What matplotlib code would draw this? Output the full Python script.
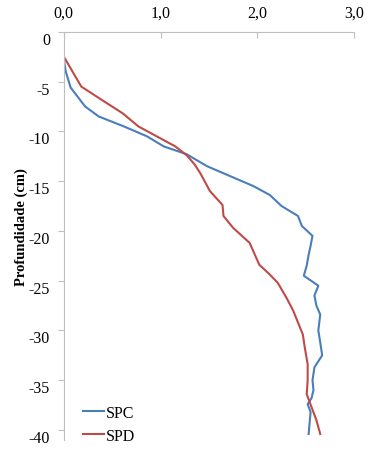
import matplotlib.pyplot as plt

plt.rcParams['font.family'] = ['Liberation Serif', 'DejaVu Serif']

# SPC (blue)
spc_depth = [0, -2.8, -4.0, -5.6, -7.5, -8.5, -9.5, -10.5, -11.5, -12.3, -13.5, -14.5, -15.5, -16.4,
             -17.5, -18.5, -19.5, -20.5, -21.5, -22.4, -23.5, -24.5, -25.5, -26.5, -27.5, -28.4,
             -30.0, -31.2, -32.5, -33.7, -35.0, -36.0, -36.8, -37.4, -38.2, -39.3, -40.4]
spc_vals = [0, 0.0, 0.02, 0.07, 0.22, 0.36, 0.62, 0.86, 1.03, 1.27, 1.48, 1.72, 1.96, 2.13,
            2.25, 2.42, 2.46, 2.57, 2.55, 2.53, 2.51, 2.48, 2.63, 2.59, 2.61, 2.65,
            2.63, 2.65, 2.67, 2.59, 2.57, 2.58, 2.56, 2.52, 2.55, 2.54, 2.53]

# SPD (red)
spd_depth = [0, -2.5, -4.0, -5.5, -6.7, -8.2, -9.5, -10.5, -11.5, -12.4, -13.3, -14.2, -16.0, -17.4,
             -18.5, -19.7, -21.2, -22.3, -23.4, -24.3, -25.2, -26.7, -28.0, -29.2, -30.4, -31.7,
             -33.4, -35.0, -36.4, -37.7, -39.0, -40.4]
spd_vals = [0, 0.0, 0.09, 0.18, 0.37, 0.61, 0.77, 0.96, 1.15, 1.27, 1.35, 1.41, 1.51, 1.64,
            1.65, 1.75, 1.92, 1.97, 2.02, 2.12, 2.21, 2.30, 2.37, 2.42, 2.47, 2.49,
            2.52, 2.52, 2.51, 2.56, 2.61, 2.65]

xticks = [0, 1, 2, 3]
xtick_labels = ['0,0', '1,0', '2,0', '3,0']
yticks = [0, -5, -10, -15, -20, -25, -30, -35, -40]

fig = plt.figure(figsize=(3.87, 4.56), dpi=100)
ax = fig.add_axes([0.165, 0.033, 0.75, 0.895])

ax.plot(spc_vals, spc_depth, color='#4A7EBB', lw=1.5, label='SPC')
ax.plot(spd_vals, spd_depth, color='#BE4B48', lw=1.5, label='SPD')

ax.set_xlim(0, 3)
ax.set_ylim(-41, 0)
ax.xaxis.tick_top()
ax.set_xticks(xticks)
ax.set_xticklabels(xtick_labels)
ax.set_yticks(yticks)
ax.set_yticklabels([str(t) for t in yticks])
ax.tick_params(axis='x', direction='in', length=4, color='#bfbfbf', labelsize=11.5, pad=8)
ax.tick_params(axis='y', direction='out', length=4, color='#bfbfbf', labelsize=11.5, pad=6)
for lab in ax.get_yticklabels():
    lab.set_verticalalignment('top')

for s in ['right', 'bottom']:
    ax.spines[s].set_visible(False)
for s in ['top', 'left']:
    ax.spines[s].set_color('#bfbfbf')

ax.set_ylabel('Profundidade (cm)', fontsize=10.5, fontweight='bold')
ax.yaxis.set_label_coords(-0.125, 0.525)

ax.legend(loc='lower left', frameon=False, fontsize=11.5, handlelength=1.3, handletextpad=0.1,
          borderaxespad=0.0, labelspacing=0.45, bbox_to_anchor=(0.045, -0.025))

fig.savefig('out.png', dpi=100)
